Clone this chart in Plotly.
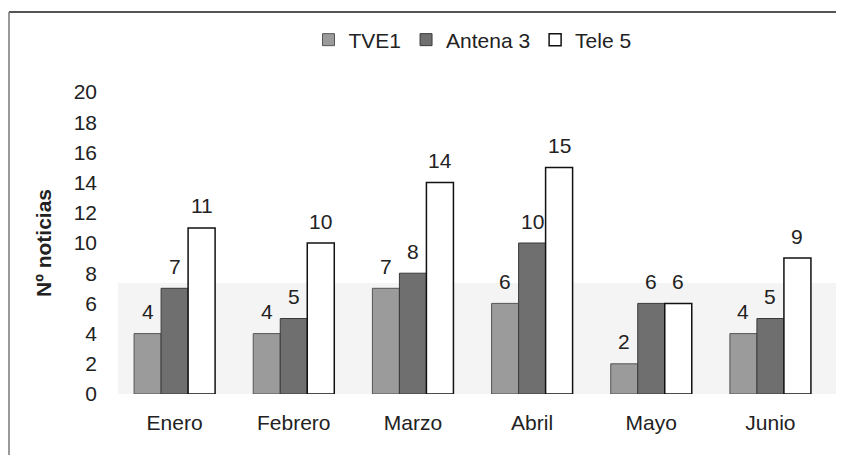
import plotly.graph_objects as go

categories = ["Enero", "Febrero", "Marzo", "Abril", "Mayo", "Junio"]
series_names = ["TVE1", "Antena 3", "Tele 5"]
tve1 = [4, 4, 7, 6, 2, 4]
antena3 = [7, 5, 8, 10, 6, 5]
tele5 = [11, 10, 14, 15, 6, 9]
y_ticks = [0, 2, 4, 6, 8, 10, 12, 14, 16, 18, 20]

fills = ["#9b9b9b", "#6f6f6f", "#ffffff"]
outlines = ["#555555", "#3a3a3a", "#111111"]
outline_w = [1, 1, 1.5]

# page has an 8px body margin; figure coordinates = page coordinates - 8
OFF = 8
W, H = 844 - OFF, 455 - OFF
L, R, T, B = 107, 14, 84, 61
pw, ph = W - L - R, H - T - B
FONT = "Liberation Sans, Arial"
FS = 21

fig = go.Figure()
all_vals = [tve1, antena3, tele5]
for name, vals, fc, lc, lw in zip(series_names, all_vals, fills, outlines, outline_w):
    fig.add_trace(go.Bar(
        x=categories, y=vals, name=name,
        marker=dict(color=fc, line=dict(color=lc, width=lw)),
    ))

# value labels above bars
cat_w = pw / len(categories)
bar_w = cat_w * (1 - 0.32) / 3
annotations = []
for i, vals in enumerate(all_vals):
    for c, v in zip(categories, vals):
        annotations.append(dict(
            x=c, y=v, xref="x", yref="y", text=str(v), showarrow=False,
            xshift=(i - 1) * bar_w, yshift=22, yanchor="middle",
            font=dict(family=FONT, size=FS, color="#222222"),
        ))


def px_x(p):
    return (p - OFF - L) / pw


def px_y(p):
    return (H - B - (p - OFF)) / ph


shapes = [
    # faint scan band
    dict(type="rect", xref="paper", yref="y", x0=px_x(118), x1=px_x(840), y0=0, y1=7.35,
         fillcolor="#f4f4f4", line=dict(width=0), layer="below"),
    # frame lines
    dict(type="line", xref="paper", yref="paper", x0=px_x(9), x1=px_x(850), y0=px_y(12), y1=px_y(12),
         line=dict(color="#555555", width=2)),
    dict(type="line", xref="paper", yref="paper", x0=px_x(9), x1=px_x(9), y0=px_y(12), y1=px_y(460),
         line=dict(color="#777777", width=1.5)),
]

fig.update_layout(
    width=W, height=H,
    margin=dict(l=L, r=R, t=T, b=B),
    paper_bgcolor="white", plot_bgcolor="rgba(0,0,0,0)",
    barmode="group", bargap=0.32, bargroupgap=0,
    font=dict(family=FONT, size=FS, color="#222222"),
    legend=dict(orientation="h", x=0.5, xanchor="center", y=px_y(40), yanchor="middle",
                font=dict(size=FS), itemwidth=30, tracegroupgap=0, bgcolor="rgba(0,0,0,0)"),
    xaxis=dict(showgrid=False, showline=False, zeroline=False, ticks="",
               tickfont=dict(size=FS), ticklabelstandoff=14),
    yaxis=dict(range=[0, 20], tickvals=y_ticks, showgrid=False, showline=False, zeroline=False,
               ticks="", tickfont=dict(size=FS), ticklabelstandoff=17,
               title=dict(text="<b>Nº noticias</b>", font=dict(size=FS), standoff=16)),
    annotations=annotations,
    shapes=shapes,
    showlegend=True,
)

fig.write_html("out.html")
